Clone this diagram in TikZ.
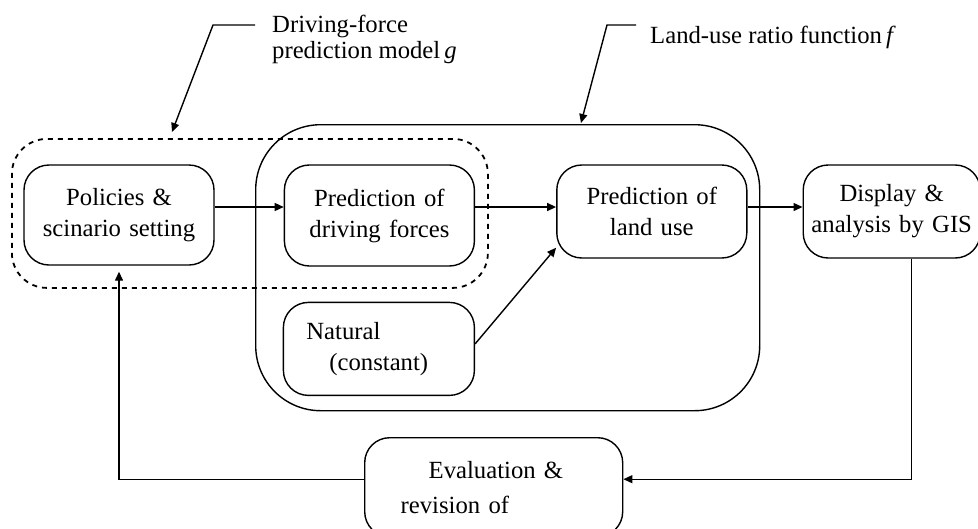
\documentclass[tikz,border=0pt]{standalone}
\usepackage{fontspec}
\setmainfont{Liberation Serif}
\usetikzlibrary{arrows.meta, positioning}
\tikzstyle{arrow} = [line width=1.4pt, -{Triangle[length=9pt,width=8pt]}]
\tikzstyle{component} = [rectangle, rounded corners=25pt, draw=black, line width=1.4pt, inner ysep=0pt, inner xsep=6pt, align=center, font=\fontsize{24.7}{31}\selectfont]
\tikzstyle{group} = [rectangle, draw=black, inner sep=0pt, anchor=north west]
\tikzstyle{callout} = [inner sep=0pt, align=left, font=\fontsize{24.7}{26}\selectfont]

\begin{document}
\begin{tikzpicture}[x=1pt,y=-1pt]
\clip (0,0) rectangle (978,528);

% Land-use ratio function f:
\node(fmodel)[group, line width=1.4pt, rounded corners=65pt, minimum width=504pt, minimum height=286pt] at (255,124) {};

% Driving-force prediction model g:
\node(gmodel)[group, line width=1.8pt, dash pattern=on 5pt off 5pt, rounded corners=35pt, minimum width=476pt, minimum height=149pt] at (11,138) {};

% Policies:
\node(policies)[component, minimum width=190pt, minimum height=100pt, text width=178pt] at (119,215)
{Policies \&\\scinario setting\par\vspace*{13pt}};

% Driving forces:
\node(drivers)[component, minimum width=190pt, minimum height=101pt, text width=178pt, right=69pt of policies.north east, anchor=north west]
{Prediction of\\driving forces\par\vspace*{13pt}};

% Natural:
\node(natural)[component, minimum width=191pt, minimum height=93pt, text width=145pt, inner xsep=23pt, align=left, below=35pt of drivers.south west, anchor=north west, xshift=-1pt]
{Natural\\\hspace*{23pt}(constant)};

% Land use:
\node(landuse)[component, minimum width=190pt, minimum height=93pt, text width=178pt, right=81pt of drivers.north east, anchor=north west]
{Prediction of\\land use\par\vspace*{6pt}};

% Display:
\node(display)[component, minimum width=177pt, minimum height=93pt, text width=170pt, inner xsep=3.5pt, right=55pt of landuse.north east, anchor=north west]
{Display \&\\analysis by GIS\par\vspace*{6pt}};

% Evaluation:
\node(evaluation)[component, minimum width=258pt, minimum height=99pt, text width=186pt, inner xsep=36pt, align=left, anchor=north west] at (364,437)
{\hspace*{28pt}Evaluation \&\\[4pt]revision of};

% callouts
\node(glabel)[callout, anchor=north west] at (272,15) {Driving-force\\prediction model\,\textit{g}};
\node(flabel)[callout, anchor=base west] at (650,43) {Land-use ratio function\,\textit{f}};
\coordinate (gtail) at (255,25);
\coordinate (gbend) at (213,25);
\coordinate (ftail) at (636,25);
\coordinate (fbend) at (607,25);
\draw[arrow] (gtail) -- (gbend) -- ([xshift=161pt,yshift=6pt]gmodel.north west);
\draw[arrow] (ftail) -- (fbend) -- ([xshift=326pt,yshift=1pt]fmodel.north west);

% flow
\draw[arrow] ([yshift=8pt]policies.east) -- ([yshift=8pt]policies.east -| drivers.west);
\draw[arrow] ([yshift=8pt]policies.east -| drivers.east) -- ([yshift=8pt]policies.east -| landuse.west);
\draw[arrow] ([yshift=8pt]policies.east -| landuse.east) -- ([yshift=8pt]policies.east -| display.west);
\draw[arrow] ([yshift=5pt]natural.east) -- ([yshift=11pt]landuse.south west);
\draw[arrow] ([xshift=19.5pt]display.south) |- ([yshift=8pt]evaluation.east);
\draw[arrow, shorten >=6pt] ([yshift=8pt]evaluation.west) -| (policies.south);

\end{tikzpicture}
\end{document}
